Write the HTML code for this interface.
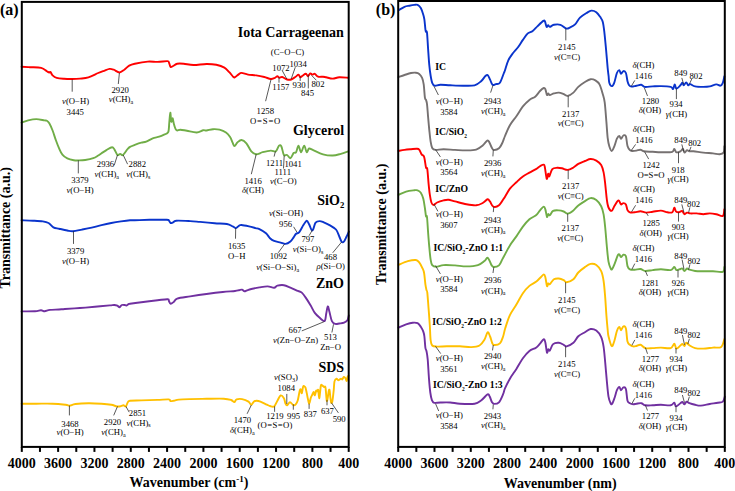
<!DOCTYPE html>
<html><head><meta charset="utf-8"><style>
html,body{margin:0;padding:0;background:#fff;overflow:hidden;}
svg{display:block;font-family:"Liberation Serif",serif;}
</style></head><body>
<svg width="735" height="491" viewBox="0 0 735 491">
<rect width="735" height="491" fill="#fff"/>
<g fill="none" stroke-linejoin="round" stroke-linecap="round" stroke-width="1.9">
<path stroke="#FF0000" d="M21.60,66.80 C23.00,66.87 26.73,67.03 30.00,67.20 C33.27,67.37 38.38,67.12 41.20,67.80 C44.02,68.48 45.55,70.52 46.90,71.30 C48.25,72.08 48.70,72.38 49.30,72.50 C49.90,72.62 49.95,71.52 50.50,72.00 C51.05,72.48 51.57,74.42 52.60,75.40 C53.63,76.38 54.80,77.33 56.70,77.90 C58.60,78.47 61.42,78.62 64.00,78.80 C66.58,78.98 69.53,79.03 72.20,79.00 C74.87,78.97 77.30,78.87 80.00,78.60 C82.70,78.33 85.37,78.33 88.40,77.40 C91.43,76.47 95.60,74.10 98.20,73.00 C100.80,71.90 102.10,71.48 104.00,70.80 C105.90,70.12 107.98,69.08 109.60,68.90 C111.22,68.72 112.07,69.10 113.70,69.70 C115.33,70.30 117.63,72.50 119.40,72.50 C121.17,72.50 122.67,70.85 124.30,69.70 C125.93,68.55 127.45,66.60 129.20,65.60 C130.95,64.60 131.70,64.37 134.80,63.70 C137.90,63.03 144.00,61.90 147.80,61.60 C151.60,61.30 154.33,61.98 157.60,61.90 C160.87,61.82 165.50,60.97 167.40,61.10 C169.30,61.23 168.47,61.73 169.00,62.70 C169.53,63.67 169.92,66.35 170.60,66.90 C171.28,67.45 172.00,66.53 173.10,66.00 C174.20,65.47 175.43,64.08 177.20,63.70 C178.97,63.32 181.00,63.48 183.70,63.70 C186.40,63.92 189.60,64.95 193.40,65.00 C197.20,65.05 202.68,64.03 206.50,64.00 C210.32,63.97 213.32,64.20 216.30,64.80 C219.28,65.40 222.23,66.37 224.40,67.60 C226.57,68.83 227.80,70.63 229.30,72.20 C230.80,73.77 232.45,76.17 233.40,77.00 C234.35,77.83 234.18,77.60 235.00,77.20 C235.82,76.80 237.22,75.32 238.30,74.60 C239.38,73.88 239.88,72.90 241.50,72.90 C243.12,72.90 245.55,74.18 248.00,74.60 C250.45,75.02 253.48,75.00 256.20,75.40 C258.92,75.80 261.87,76.40 264.30,77.00 C266.73,77.60 269.03,78.87 270.80,79.00 C272.57,79.13 273.80,78.27 274.90,77.80 C276.00,77.33 276.67,76.20 277.40,76.20 C278.13,76.20 278.50,77.67 279.30,77.80 C280.10,77.93 280.90,76.72 282.20,77.00 C283.50,77.28 285.60,79.08 287.10,79.50 C288.60,79.92 289.83,79.92 291.20,79.50 C292.57,79.08 294.08,77.82 295.30,77.00 C296.52,76.18 297.68,74.55 298.50,74.60 C299.32,74.65 299.52,77.12 300.20,77.30 C300.88,77.48 301.65,76.28 302.60,75.70 C303.55,75.12 305.00,73.72 305.90,73.80 C306.80,73.88 307.27,76.27 308.00,76.20 C308.73,76.13 309.57,73.67 310.30,73.40 C311.03,73.13 311.65,74.53 312.40,74.60 C313.15,74.67 313.85,73.45 314.80,73.80 C315.75,74.15 316.73,76.22 318.10,76.70 C319.47,77.18 321.65,76.60 323.00,76.70 C324.35,76.80 324.58,76.98 326.20,77.30 C327.82,77.62 330.52,78.60 332.70,78.60 C334.88,78.60 336.72,77.43 339.30,77.30 C341.88,77.17 346.72,77.72 348.20,77.80"/>
<path stroke="#70AD47" d="M21.60,122.70 C22.68,122.32 25.65,121.00 28.10,120.40 C30.55,119.80 33.58,119.10 36.30,119.10 C39.02,119.10 42.63,120.13 44.40,120.40 C46.17,120.67 46.08,120.23 46.90,120.70 C47.72,121.17 48.35,121.57 49.30,123.20 C50.25,124.83 51.50,127.65 52.60,130.50 C53.70,133.35 54.82,137.32 55.90,140.30 C56.98,143.28 58.02,146.00 59.10,148.40 C60.18,150.80 61.03,153.03 62.40,154.70 C63.77,156.37 65.40,157.48 67.30,158.40 C69.20,159.32 71.90,159.87 73.80,160.20 C75.70,160.53 76.80,160.43 78.70,160.40 C80.60,160.37 82.77,160.37 85.20,160.00 C87.63,159.63 91.13,158.95 93.30,158.20 C95.47,157.45 96.83,156.32 98.20,155.50 C99.57,154.68 100.13,154.20 101.50,153.30 C102.87,152.40 104.63,151.12 106.40,150.10 C108.17,149.08 110.75,147.28 112.10,147.20 C113.45,147.12 113.60,148.30 114.50,149.60 C115.40,150.90 116.55,154.28 117.50,155.00 C118.45,155.72 119.28,153.90 120.20,153.90 C121.12,153.90 121.77,155.82 123.00,155.00 C124.23,154.18 126.43,150.37 127.60,149.00 C128.77,147.63 128.80,147.48 130.00,146.80 C131.20,146.12 132.92,145.58 134.80,144.90 C136.68,144.22 139.40,143.25 141.30,142.70 C143.20,142.15 144.30,142.33 146.20,141.60 C148.10,140.87 150.53,139.12 152.70,138.30 C154.87,137.48 157.30,137.32 159.20,136.70 C161.10,136.08 162.60,135.35 164.10,134.60 C165.60,133.85 167.33,134.23 168.20,132.20 C169.07,130.17 168.95,125.67 169.30,122.40 C169.65,119.13 169.97,112.73 170.30,112.60 C170.63,112.47 170.92,120.65 171.30,121.60 C171.68,122.55 172.17,117.90 172.60,118.30 C173.03,118.70 173.42,122.23 173.90,124.00 C174.38,125.77 174.95,127.82 175.50,128.90 C176.05,129.98 176.38,130.37 177.20,130.50 C178.02,130.63 178.78,129.65 180.40,129.70 C182.02,129.75 184.18,130.33 186.90,130.80 C189.62,131.27 193.98,132.60 196.70,132.50 C199.42,132.40 201.57,130.53 203.20,130.20 C204.83,129.87 204.87,130.67 206.50,130.50 C208.13,130.33 210.83,129.33 213.00,129.20 C215.17,129.07 217.33,129.15 219.50,129.70 C221.67,130.25 224.23,131.28 226.00,132.50 C227.77,133.72 229.00,135.30 230.10,137.00 C231.20,138.70 231.87,141.20 232.60,142.70 C233.33,144.20 233.70,146.03 234.50,146.00 C235.30,145.97 236.23,143.50 237.40,142.50 C238.57,141.50 240.00,139.87 241.50,140.00 C243.00,140.13 244.77,141.40 246.40,143.30 C248.03,145.20 249.67,149.57 251.30,151.40 C252.93,153.23 254.30,154.17 256.20,154.30 C258.10,154.43 260.27,152.82 262.70,152.20 C265.13,151.58 268.63,150.73 270.80,150.60 C272.97,150.47 274.33,152.22 275.70,151.40 C277.07,150.58 278.05,146.52 279.00,145.70 C279.95,144.88 280.58,144.95 281.40,146.50 C282.22,148.05 282.95,153.58 283.90,155.00 C284.85,156.42 286.02,154.47 287.10,155.00 C288.18,155.53 289.32,158.53 290.40,158.20 C291.48,157.87 292.65,154.00 293.60,153.00 C294.55,152.00 295.28,153.42 296.10,152.20 C296.92,150.98 297.68,145.70 298.50,145.70 C299.32,145.70 300.05,152.20 301.00,152.20 C301.95,152.20 303.25,145.70 304.20,145.70 C305.15,145.70 305.88,151.73 306.70,152.20 C307.52,152.67 308.02,148.85 309.10,148.50 C310.18,148.15 310.88,149.13 313.20,150.10 C315.52,151.07 319.75,153.40 323.00,154.30 C326.25,155.20 329.72,155.58 332.70,155.50 C335.68,155.42 338.32,154.48 340.90,153.80 C343.48,153.12 346.98,151.80 348.20,151.40"/>
<path stroke="#0A34CC" d="M21.60,220.30 C23.50,220.37 29.47,220.52 33.00,220.70 C36.53,220.88 40.22,221.02 42.80,221.40 C45.38,221.78 46.73,222.02 48.50,223.00 C50.27,223.98 51.63,226.35 53.40,227.30 C55.17,228.25 56.78,228.17 59.10,228.70 C61.42,229.23 64.98,230.08 67.30,230.50 C69.62,230.92 70.57,231.35 73.00,231.20 C75.43,231.05 78.78,230.20 81.90,229.60 C85.02,229.00 88.43,228.35 91.70,227.60 C94.97,226.85 98.23,225.87 101.50,225.10 C104.77,224.33 108.05,223.62 111.30,223.00 C114.55,222.38 117.88,221.85 121.00,221.40 C124.12,220.95 127.70,220.48 130.00,220.30 C132.30,220.12 131.57,220.38 134.80,220.30 C138.03,220.22 144.10,219.88 149.40,219.80 C154.70,219.72 163.33,219.65 166.60,219.80 C169.87,219.95 168.33,220.17 169.00,220.70 C169.67,221.23 169.92,222.72 170.60,223.00 C171.28,223.28 172.15,222.78 173.10,222.40 C174.05,222.02 173.45,220.92 176.30,220.70 C179.15,220.48 186.25,220.90 190.20,221.10 C194.15,221.30 195.92,221.55 200.00,221.90 C204.08,222.25 210.22,222.85 214.70,223.20 C219.18,223.55 223.90,223.47 226.90,224.00 C229.90,224.53 231.20,225.72 232.70,226.40 C234.20,227.08 234.82,228.23 235.90,228.10 C236.98,227.97 238.25,226.12 239.20,225.60 C240.15,225.08 239.97,224.87 241.60,225.00 C243.23,225.13 246.68,225.88 249.00,226.40 C251.32,226.92 253.77,227.63 255.50,228.10 C257.23,228.57 257.65,228.33 259.40,229.20 C261.15,230.07 264.23,231.80 266.00,233.30 C267.77,234.80 268.65,236.93 270.00,238.20 C271.35,239.47 272.33,240.17 274.10,240.90 C275.87,241.63 278.70,242.10 280.60,242.60 C282.50,243.10 283.87,244.10 285.50,243.90 C287.13,243.70 289.05,242.48 290.40,241.40 C291.75,240.32 292.65,238.67 293.60,237.40 C294.55,236.13 295.15,234.68 296.10,233.80 C297.05,232.92 298.08,233.55 299.30,232.10 C300.52,230.65 302.17,227.00 303.40,225.10 C304.63,223.20 305.75,220.83 306.70,220.70 C307.65,220.57 308.28,222.75 309.10,224.30 C309.92,225.85 310.92,229.18 311.60,230.00 C312.28,230.82 312.53,230.42 313.20,229.20 C313.87,227.98 314.52,224.05 315.60,222.70 C316.68,221.35 318.33,221.15 319.70,221.10 C321.07,221.05 322.17,221.73 323.80,222.40 C325.43,223.07 327.47,223.92 329.50,225.10 C331.53,226.28 334.37,227.60 336.00,229.50 C337.63,231.40 338.35,234.43 339.30,236.50 C340.25,238.57 340.90,241.08 341.70,241.90 C342.50,242.72 343.28,242.30 344.10,241.40 C344.92,240.50 345.82,238.12 346.60,236.50 C347.38,234.88 348.43,232.50 348.80,231.70"/>
<path stroke="#7030A0" d="M21.60,311.40 C23.83,311.38 31.77,311.48 35.00,311.30 C38.23,311.12 39.38,310.32 41.00,310.30 C42.62,310.28 43.22,311.27 44.70,311.20 C46.18,311.13 47.53,310.18 49.90,309.90 C52.27,309.62 56.40,309.65 58.90,309.50 C61.40,309.35 61.40,309.25 64.90,309.00 C68.40,308.75 74.90,308.37 79.90,308.00 C84.90,307.63 89.92,307.23 94.90,306.80 C99.88,306.37 106.57,305.70 109.80,305.40 C113.03,305.10 113.05,304.95 114.30,305.00 C115.55,305.05 116.42,305.33 117.30,305.70 C118.18,306.07 118.85,307.32 119.60,307.20 C120.35,307.08 120.93,305.37 121.80,305.00 C122.67,304.63 124.05,304.90 124.80,305.00 C125.55,305.10 125.68,305.73 126.30,305.60 C126.92,305.47 127.88,304.50 128.50,304.20 C129.12,303.90 127.87,304.13 130.00,303.80 C132.13,303.47 136.70,302.80 141.30,302.20 C145.90,301.60 153.20,300.70 157.60,300.20 C162.00,299.70 165.80,299.02 167.70,299.20 C169.60,299.38 168.52,300.53 169.00,301.30 C169.48,302.07 169.78,303.72 170.60,303.80 C171.42,303.88 172.80,302.67 173.90,301.80 C175.00,300.93 174.48,299.50 177.20,298.60 C179.92,297.70 185.32,297.17 190.20,296.40 C195.08,295.63 201.07,294.73 206.50,294.00 C211.93,293.27 218.05,292.50 222.80,292.00 C227.55,291.50 232.30,291.30 235.00,291.00 C237.70,290.70 237.83,290.43 239.00,290.20 C240.17,289.97 241.08,289.43 242.00,289.60 C242.92,289.77 243.67,291.08 244.50,291.20 C245.33,291.32 245.87,290.67 247.00,290.30 C248.13,289.93 249.23,289.48 251.30,289.00 C253.37,288.52 256.68,287.83 259.40,287.40 C262.12,286.97 265.15,286.35 267.60,286.40 C270.05,286.45 272.47,287.82 274.10,287.70 C275.73,287.58 275.77,286.12 277.40,285.70 C279.03,285.28 281.73,284.87 283.90,285.20 C286.07,285.53 288.23,286.80 290.40,287.70 C292.57,288.60 295.00,289.78 296.90,290.60 C298.80,291.42 300.17,291.18 301.80,292.60 C303.43,294.02 305.22,296.93 306.70,299.10 C308.18,301.27 309.35,303.30 310.70,305.60 C312.05,307.90 313.30,310.87 314.80,312.90 C316.30,314.93 318.07,316.43 319.70,317.80 C321.33,319.17 323.52,321.77 324.60,321.10 C325.68,320.43 325.67,316.25 326.20,313.80 C326.73,311.35 327.25,306.68 327.80,306.40 C328.35,306.12 328.82,309.65 329.50,312.10 C330.18,314.55 330.95,319.13 331.90,321.10 C332.85,323.07 333.97,323.50 335.20,323.90 C336.43,324.30 337.82,323.70 339.30,323.50 C340.78,323.30 342.75,323.23 344.10,322.70 C345.45,322.17 346.62,321.52 347.40,320.30 C348.18,319.08 348.57,316.22 348.80,315.40"/>
<path stroke="#FFC000" d="M21.60,403.70 C24.05,403.70 31.13,403.70 36.30,403.70 C41.47,403.70 47.72,403.52 52.60,403.70 C57.48,403.88 62.75,404.48 65.60,404.80 C68.45,405.12 68.07,405.73 69.70,405.60 C71.33,405.47 72.28,404.40 75.40,404.00 C78.52,403.60 84.05,403.25 88.40,403.20 C92.75,403.15 97.68,403.43 101.50,403.70 C105.32,403.97 108.72,404.35 111.30,404.80 C113.88,405.25 115.38,406.18 117.00,406.40 C118.62,406.62 119.92,406.28 121.00,406.10 C122.08,405.92 122.68,405.25 123.50,405.30 C124.32,405.35 125.22,406.83 125.90,406.40 C126.58,405.97 126.93,403.65 127.60,402.70 C128.27,401.75 127.62,401.08 129.90,400.70 C132.18,400.32 136.68,400.53 141.30,400.40 C145.92,400.27 153.03,400.07 157.60,399.90 C162.17,399.73 166.53,399.20 168.70,399.40 C170.87,399.60 169.73,400.88 170.60,401.10 C171.47,401.32 172.53,400.95 173.90,400.70 C175.27,400.45 176.08,399.87 178.80,399.60 C181.52,399.33 185.58,399.23 190.20,399.10 C194.82,398.97 200.92,398.87 206.50,398.80 C212.08,398.73 219.60,398.50 223.70,398.70 C227.80,398.90 229.33,399.43 231.10,400.00 C232.87,400.57 233.38,402.20 234.30,402.10 C235.22,402.00 235.30,399.90 236.60,399.40 C237.90,398.90 240.12,398.73 242.10,399.10 C244.08,399.47 246.98,400.63 248.50,401.60 C250.02,402.57 250.28,404.93 251.20,404.90 C252.12,404.87 253.08,402.10 254.00,401.40 C254.92,400.70 255.63,400.67 256.70,400.70 C257.77,400.73 258.72,400.95 260.40,401.60 C262.08,402.25 265.20,403.87 266.80,404.60 C268.40,405.33 268.78,405.70 270.00,406.00 C271.22,406.30 272.87,407.28 274.10,406.40 C275.33,405.52 276.32,402.52 277.40,400.70 C278.48,398.88 279.52,395.90 280.60,395.50 C281.68,395.10 283.08,396.93 283.90,398.30 C284.72,399.67 284.97,402.53 285.50,403.70 C286.03,404.87 286.35,405.55 287.10,405.30 C287.85,405.05 288.97,402.23 290.00,402.20 C291.03,402.17 292.35,404.75 293.30,405.10 C294.25,405.45 294.95,405.12 295.70,404.30 C296.45,403.48 297.12,402.52 297.80,400.20 C298.48,397.88 299.27,392.17 299.80,390.40 C300.33,388.63 300.67,389.12 301.00,389.60 C301.33,390.08 301.45,393.78 301.80,393.30 C302.15,392.82 302.68,387.87 303.10,386.70 C303.52,385.53 303.90,386.15 304.30,386.30 C304.70,386.45 305.10,386.50 305.50,387.60 C305.90,388.70 306.28,390.93 306.70,392.90 C307.12,394.87 307.57,397.63 308.00,399.40 C308.43,401.17 308.83,403.77 309.30,403.50 C309.77,403.23 310.28,399.30 310.80,397.80 C311.32,396.30 311.92,395.47 312.40,394.50 C312.88,393.53 313.28,391.87 313.70,392.00 C314.12,392.13 314.50,395.50 314.90,395.30 C315.30,395.10 315.70,391.48 316.10,390.80 C316.50,390.12 316.95,391.33 317.30,391.20 C317.65,391.07 317.88,388.83 318.20,390.00 C318.52,391.17 318.87,398.00 319.20,398.20 C319.53,398.40 319.90,393.38 320.20,391.20 C320.50,389.02 320.58,385.98 321.00,385.10 C321.42,384.22 322.15,385.57 322.70,385.90 C323.25,386.23 323.83,386.82 324.30,387.10 C324.77,387.38 325.10,385.42 325.50,387.60 C325.90,389.78 326.35,398.37 326.70,400.20 C327.05,402.03 327.25,400.17 327.60,398.60 C327.95,397.03 328.47,392.17 328.80,390.80 C329.13,389.43 329.33,389.23 329.60,390.40 C329.87,391.57 330.13,395.75 330.40,397.80 C330.67,399.85 330.87,402.17 331.20,402.70 C331.53,403.23 331.98,403.05 332.40,401.00 C332.82,398.95 333.35,393.67 333.70,390.40 C334.05,387.13 334.03,383.37 334.50,381.40 C334.97,379.43 335.88,378.80 336.50,378.60 C337.12,378.40 337.65,380.07 338.20,380.20 C338.75,380.33 339.33,379.67 339.80,379.40 C340.27,379.13 340.60,378.60 341.00,378.60 C341.40,378.60 341.72,379.68 342.20,379.40 C342.68,379.12 343.35,377.10 343.90,376.90 C344.45,376.70 345.03,377.52 345.50,378.20 C345.97,378.88 346.35,381.22 346.70,381.00 C347.05,380.78 347.28,377.78 347.60,376.90 C347.92,376.02 348.43,375.90 348.60,375.70"/>
<path stroke="#0A34CC" d="M398.80,10.10 C399.75,9.55 402.73,7.53 404.50,6.80 C406.27,6.07 407.77,6.02 409.40,5.70 C411.03,5.38 412.93,5.03 414.30,4.90 C415.67,4.77 416.52,4.37 417.60,4.90 C418.68,5.43 419.85,6.47 420.80,8.10 C421.75,9.73 422.70,12.78 423.30,14.70 C423.90,16.62 424.05,17.17 424.40,19.60 C424.75,22.03 425.13,27.27 425.40,29.30 C425.67,31.33 425.73,31.25 426.00,31.80 C426.27,32.35 426.65,29.75 427.00,32.60 C427.35,35.45 427.72,43.47 428.10,48.90 C428.48,54.33 428.88,60.77 429.30,65.20 C429.72,69.63 430.12,72.57 430.60,75.50 C431.08,78.43 431.52,81.10 432.20,82.80 C432.88,84.50 433.33,85.37 434.70,85.70 C436.07,86.03 437.82,84.87 440.40,84.80 C442.98,84.73 446.40,85.15 450.20,85.30 C454.00,85.45 459.13,85.70 463.20,85.70 C467.27,85.70 471.62,86.05 474.60,85.30 C477.58,84.55 479.33,82.70 481.10,81.20 C482.87,79.70 484.12,77.33 485.20,76.30 C486.28,75.27 486.78,74.45 487.60,75.00 C488.42,75.55 489.28,77.97 490.10,79.60 C490.92,81.23 491.55,84.05 492.50,84.80 C493.45,85.55 494.57,84.43 495.80,84.10 C497.03,83.77 498.55,84.65 499.90,82.80 C501.25,80.95 503.05,75.08 503.90,73.00 C504.75,70.92 504.27,72.42 505.00,70.30 C505.73,68.18 506.95,63.18 508.30,60.30 C509.65,57.42 511.48,55.17 513.10,53.00 C514.72,50.83 516.37,49.48 518.00,47.30 C519.63,45.12 521.27,42.22 522.90,39.90 C524.53,37.58 526.17,34.88 527.80,33.40 C529.43,31.92 531.07,32.22 532.70,31.00 C534.33,29.78 535.83,27.78 537.60,26.10 C539.37,24.42 542.08,21.72 543.30,20.90 C544.52,20.08 544.35,20.20 544.90,21.20 C545.45,22.20 546.05,26.22 546.60,26.90 C547.15,27.58 547.67,25.30 548.20,25.30 C548.73,25.30 548.85,26.98 549.80,26.90 C550.75,26.82 552.13,25.15 553.90,24.80 C555.67,24.45 558.37,24.18 560.40,24.80 C562.43,25.42 564.47,28.07 566.10,28.50 C567.73,28.93 568.70,28.08 570.20,27.40 C571.70,26.72 573.47,26.03 575.10,24.40 C576.73,22.77 578.10,19.50 580.00,17.60 C581.90,15.70 584.60,14.17 586.50,13.00 C588.40,11.83 589.77,10.73 591.40,10.60 C593.03,10.47 594.82,11.12 596.30,12.20 C597.78,13.28 599.22,15.47 600.30,17.10 C601.38,18.73 602.12,19.42 602.80,22.00 C603.48,24.58 603.87,28.12 604.40,32.60 C604.93,37.08 605.45,42.93 606.00,48.90 C606.55,54.87 607.27,63.88 607.70,68.40 C608.13,72.92 608.33,73.60 608.60,76.00 C608.87,78.40 608.78,81.12 609.30,82.80 C609.82,84.48 610.88,86.10 611.70,86.10 C612.52,86.10 613.33,84.98 614.20,82.80 C615.07,80.62 616.05,75.12 616.90,73.00 C617.75,70.88 618.62,69.97 619.30,70.10 C619.98,70.23 620.32,73.63 621.00,73.80 C621.68,73.97 622.58,71.23 623.40,71.10 C624.22,70.97 625.22,71.32 625.90,73.00 C626.58,74.68 626.97,79.15 627.50,81.20 C628.03,83.25 628.42,84.40 629.10,85.30 C629.78,86.20 630.38,86.53 631.60,86.60 C632.82,86.67 634.78,86.00 636.40,85.70 C638.02,85.40 639.93,84.60 641.30,84.80 C642.67,85.00 642.70,86.63 644.60,86.90 C646.50,87.17 649.98,86.53 652.70,86.40 C655.42,86.27 657.90,86.02 660.90,86.10 C663.90,86.18 668.67,86.42 670.70,86.90 C672.73,87.38 672.43,89.42 673.10,89.00 C673.77,88.58 674.15,84.48 674.70,84.40 C675.25,84.32 675.45,88.35 676.40,88.50 C677.35,88.65 679.40,86.25 680.40,85.30 C681.40,84.35 681.85,82.80 682.40,82.80 C682.95,82.80 683.07,85.35 683.70,85.30 C684.33,85.25 685.43,82.50 686.20,82.50 C686.97,82.50 687.63,85.03 688.30,85.30 C688.97,85.57 689.07,83.92 690.20,84.10 C691.33,84.28 692.92,85.93 695.10,86.40 C697.28,86.87 700.85,86.90 703.30,86.90 C705.75,86.90 707.63,86.82 709.80,86.40 C711.97,85.98 714.53,84.52 716.30,84.40 C718.07,84.28 719.32,85.97 720.40,85.70 C721.48,85.43 722.13,84.37 722.80,82.80 C723.47,81.23 724.13,77.38 724.40,76.30"/>
<path stroke="#767171" d="M398.50,77.10 C399.50,76.75 402.42,75.68 404.50,75.00 C406.58,74.32 409.10,73.38 411.00,73.00 C412.90,72.62 414.53,72.55 415.90,72.70 C417.27,72.85 418.17,73.03 419.20,73.90 C420.23,74.77 421.35,76.15 422.10,77.90 C422.85,79.65 423.23,81.13 423.70,84.40 C424.17,87.67 424.52,94.92 424.90,97.50 C425.28,100.08 425.65,98.82 426.00,99.90 C426.35,100.98 426.65,101.15 427.00,104.00 C427.35,106.85 427.72,112.65 428.10,117.00 C428.48,121.35 428.88,126.03 429.30,130.10 C429.72,134.17 430.12,138.43 430.60,141.40 C431.08,144.37 431.38,146.48 432.20,147.90 C433.02,149.32 433.60,149.68 435.50,149.90 C437.40,150.12 440.35,149.20 443.60,149.20 C446.85,149.20 451.20,149.70 455.00,149.90 C458.80,150.10 462.87,150.45 466.40,150.40 C469.93,150.35 473.48,150.42 476.20,149.60 C478.92,148.78 480.85,147.00 482.70,145.50 C484.55,144.00 486.20,141.15 487.30,140.60 C488.40,140.05 488.57,141.03 489.30,142.20 C490.03,143.37 490.95,146.32 491.70,147.60 C492.45,148.88 492.58,149.78 493.80,149.90 C495.02,150.02 497.58,149.45 499.00,148.30 C500.42,147.15 501.30,145.05 502.30,143.00 C503.30,140.95 503.73,138.97 505.00,136.00 C506.27,133.03 508.00,128.50 509.90,125.20 C511.80,121.90 514.23,119.33 516.40,116.20 C518.57,113.07 520.73,109.12 522.90,106.40 C525.07,103.68 527.35,101.52 529.40,99.90 C531.45,98.28 533.43,98.18 535.20,96.70 C536.97,95.22 538.57,92.45 540.00,91.00 C541.43,89.55 542.90,88.28 543.80,88.00 C544.70,87.72 544.87,88.13 545.40,89.30 C545.93,90.47 546.53,94.32 547.00,95.00 C547.47,95.68 547.73,93.40 548.20,93.40 C548.67,93.40 548.85,95.00 549.80,95.00 C550.75,95.00 552.40,93.80 553.90,93.40 C555.40,93.00 557.17,92.47 558.80,92.60 C560.43,92.73 562.22,93.65 563.70,94.20 C565.18,94.75 566.08,96.17 567.70,95.90 C569.32,95.63 571.63,94.10 573.40,92.60 C575.17,91.10 576.38,88.67 578.30,86.90 C580.22,85.13 582.85,83.28 584.90,82.00 C586.95,80.72 588.85,79.47 590.60,79.20 C592.35,78.93 593.92,79.53 595.40,80.40 C596.88,81.27 598.27,82.10 599.50,84.40 C600.73,86.70 601.93,91.20 602.80,94.20 C603.67,97.20 604.10,97.78 604.70,102.40 C605.30,107.02 605.90,115.93 606.40,121.90 C606.90,127.87 607.22,134.13 607.70,138.20 C608.18,142.27 608.63,144.17 609.30,146.30 C609.97,148.43 610.85,151.03 611.70,151.00 C612.55,150.97 613.53,148.15 614.40,146.10 C615.27,144.05 616.08,140.38 616.90,138.70 C617.72,137.02 618.62,136.00 619.30,136.00 C619.98,136.00 620.32,138.78 621.00,138.70 C621.68,138.62 622.58,135.90 623.40,135.50 C624.22,135.10 625.22,134.53 625.90,136.30 C626.58,138.07 626.83,143.78 627.50,146.10 C628.17,148.42 629.08,149.38 629.90,150.20 C630.72,151.02 631.32,150.93 632.40,151.00 C633.48,151.07 635.05,150.82 636.40,150.60 C637.75,150.38 639.27,149.58 640.50,149.70 C641.73,149.82 641.77,150.95 643.80,151.30 C645.83,151.65 649.30,151.63 652.70,151.80 C656.10,151.97 660.93,152.30 664.20,152.30 C667.47,152.30 670.62,152.35 672.30,151.80 C673.98,151.25 673.62,148.92 674.30,149.00 C674.98,149.08 675.38,151.92 676.40,152.30 C677.42,152.68 679.32,151.85 680.40,151.30 C681.48,150.75 682.22,148.78 682.90,149.00 C683.58,149.22 683.82,152.40 684.50,152.60 C685.18,152.80 686.18,150.42 687.00,150.20 C687.82,149.98 688.32,151.12 689.40,151.30 C690.48,151.48 691.18,151.08 693.50,151.30 C695.82,151.52 700.05,152.25 703.30,152.60 C706.55,152.95 710.28,153.13 713.00,153.40 C715.72,153.67 717.83,154.33 719.60,154.20 C721.37,154.07 722.80,153.95 723.60,152.60 C724.40,151.25 724.27,147.18 724.40,146.10"/>
<path stroke="#FF0000" d="M398.50,150.90 C399.50,150.73 402.42,150.18 404.50,149.90 C406.58,149.62 408.97,149.40 411.00,149.20 C413.03,149.00 415.33,148.63 416.70,148.70 C418.07,148.77 418.38,148.65 419.20,149.60 C420.02,150.55 420.78,153.18 421.60,154.40 C422.42,155.62 423.37,154.72 424.10,156.90 C424.83,159.08 425.47,165.47 426.00,167.50 C426.53,169.53 426.87,166.38 427.30,169.10 C427.73,171.82 428.17,179.45 428.60,183.80 C429.03,188.15 429.43,192.08 429.90,195.20 C430.37,198.32 430.80,200.87 431.40,202.50 C432.00,204.13 432.55,205.00 433.50,205.00 C434.45,205.00 435.42,203.27 437.10,202.50 C438.78,201.73 441.70,200.85 443.60,200.40 C445.50,199.95 446.60,199.63 448.50,199.80 C450.40,199.97 452.02,200.67 455.00,201.40 C457.98,202.13 462.87,203.55 466.40,204.20 C469.93,204.85 473.48,205.50 476.20,205.30 C478.92,205.10 480.80,204.00 482.70,203.00 C484.60,202.00 486.37,199.52 487.60,199.30 C488.83,199.08 489.15,200.48 490.10,201.70 C491.05,202.92 491.82,206.00 493.30,206.60 C494.78,207.20 497.23,206.67 499.00,205.30 C500.77,203.93 502.90,199.82 503.90,198.40 C504.90,196.98 504.00,198.42 505.00,196.80 C506.00,195.18 508.00,191.13 509.90,188.70 C511.80,186.27 514.23,184.25 516.40,182.20 C518.57,180.15 520.73,177.98 522.90,176.40 C525.07,174.82 527.22,173.92 529.40,172.70 C531.58,171.48 534.23,170.18 536.00,169.10 C537.77,168.02 538.70,166.95 540.00,166.20 C541.30,165.45 542.98,164.38 543.80,164.60 C544.62,164.82 544.52,165.67 544.90,167.50 C545.28,169.33 545.75,173.70 546.10,175.60 C546.45,177.50 546.65,179.22 547.00,178.90 C547.35,178.58 547.82,174.12 548.20,173.70 C548.58,173.28 548.62,177.17 549.30,176.40 C549.98,175.63 550.98,170.53 552.30,169.10 C553.62,167.67 555.58,167.93 557.20,167.80 C558.82,167.67 560.25,167.95 562.00,168.30 C563.75,168.65 565.80,170.03 567.70,169.90 C569.60,169.77 571.63,168.50 573.40,167.50 C575.17,166.50 576.38,164.98 578.30,163.90 C580.22,162.82 582.85,161.82 584.90,161.00 C586.95,160.18 588.70,159.07 590.60,159.00 C592.50,158.93 594.53,159.60 596.30,160.60 C598.07,161.60 599.98,163.03 601.20,165.00 C602.42,166.97 602.93,169.27 603.60,172.40 C604.27,175.53 604.65,179.18 605.20,183.80 C605.75,188.42 606.35,196.15 606.90,200.10 C607.45,204.05 607.70,205.72 608.50,207.50 C609.30,209.28 610.72,211.03 611.70,210.80 C612.68,210.57 613.40,207.75 614.40,206.10 C615.40,204.45 616.88,201.72 617.70,200.90 C618.52,200.08 618.75,200.62 619.30,201.20 C619.85,201.78 620.32,204.08 621.00,204.40 C621.68,204.72 622.58,203.10 623.40,203.10 C624.22,203.10 625.22,203.23 625.90,204.40 C626.58,205.57 626.83,208.78 627.50,210.10 C628.17,211.42 628.68,211.93 629.90,212.30 C631.12,212.67 633.03,212.47 634.80,212.30 C636.57,212.13 638.60,211.25 640.50,211.30 C642.40,211.35 644.17,212.52 646.20,212.60 C648.23,212.68 650.25,212.13 652.70,211.80 C655.15,211.47 658.45,210.52 660.90,210.60 C663.35,210.68 665.50,212.02 667.40,212.30 C669.30,212.58 671.15,213.07 672.30,212.30 C673.45,211.53 673.70,207.87 674.30,207.70 C674.90,207.53 675.15,210.53 675.90,211.30 C676.65,212.07 677.77,212.35 678.80,212.30 C679.83,212.25 681.15,210.68 682.10,211.00 C683.05,211.32 683.68,213.93 684.50,214.20 C685.32,214.47 686.05,212.73 687.00,212.60 C687.95,212.47 688.58,213.27 690.20,213.40 C691.82,213.53 694.52,213.27 696.70,213.40 C698.88,213.53 701.12,214.20 703.30,214.20 C705.48,214.20 707.63,213.40 709.80,213.40 C711.97,213.40 714.13,213.78 716.30,214.20 C718.47,214.62 721.45,216.72 722.80,215.90 C724.15,215.08 724.13,210.40 724.40,209.30"/>
<path stroke="#70AD47" d="M398.50,194.90 C399.77,194.35 403.47,192.37 406.10,191.60 C408.73,190.83 412.38,190.52 414.30,190.30 C416.22,190.08 416.52,189.90 417.60,190.30 C418.68,190.70 419.85,191.28 420.80,192.70 C421.75,194.12 422.62,196.25 423.30,198.80 C423.98,201.35 424.45,205.10 424.90,208.00 C425.35,210.90 425.65,214.70 426.00,216.20 C426.35,217.70 426.65,214.28 427.00,217.00 C427.35,219.72 427.72,227.47 428.10,232.50 C428.48,237.53 428.88,242.72 429.30,247.20 C429.72,251.68 430.12,256.42 430.60,259.40 C431.08,262.38 431.25,263.88 432.20,265.10 C433.15,266.32 434.40,266.70 436.30,266.70 C438.20,266.70 440.48,265.32 443.60,265.10 C446.72,264.88 451.20,265.18 455.00,265.40 C458.80,265.62 462.58,266.45 466.40,266.40 C470.22,266.35 474.90,266.00 477.90,265.10 C480.90,264.20 482.83,262.23 484.40,261.00 C485.97,259.77 486.48,257.83 487.30,257.70 C488.12,257.57 488.57,258.92 489.30,260.20 C490.03,261.48 490.95,264.27 491.70,265.40 C492.45,266.53 492.58,267.00 493.80,267.00 C495.02,267.00 497.58,266.67 499.00,265.40 C500.42,264.13 501.30,261.23 502.30,259.40 C503.30,257.57 503.73,256.73 505.00,254.40 C506.27,252.07 508.00,248.40 509.90,245.40 C511.80,242.40 514.23,239.52 516.40,236.40 C518.57,233.28 520.73,229.55 522.90,226.70 C525.07,223.85 527.22,221.20 529.40,219.30 C531.58,217.40 534.23,216.78 536.00,215.30 C537.77,213.82 538.70,211.85 540.00,210.40 C541.30,208.95 542.90,206.73 543.80,206.60 C544.70,206.47 544.87,207.88 545.40,209.60 C545.93,211.32 546.53,216.15 547.00,216.90 C547.47,217.65 547.73,214.37 548.20,214.10 C548.67,213.83 548.98,215.83 549.80,215.30 C550.62,214.77 551.60,211.72 553.10,210.90 C554.60,210.08 557.03,210.30 558.80,210.40 C560.57,210.50 562.22,210.97 563.70,211.50 C565.18,212.03 566.08,213.78 567.70,213.60 C569.32,213.42 571.63,211.75 573.40,210.40 C575.17,209.05 576.38,207.05 578.30,205.50 C580.22,203.95 582.85,202.33 584.90,201.10 C586.95,199.87 588.70,198.27 590.60,198.10 C592.50,197.93 594.53,198.73 596.30,200.10 C598.07,201.47 599.98,203.92 601.20,206.30 C602.42,208.68 602.93,210.87 603.60,214.40 C604.27,217.93 604.65,222.07 605.20,227.50 C605.75,232.93 606.35,241.30 606.90,247.00 C607.45,252.70 607.88,258.17 608.50,261.70 C609.12,265.23 610.02,266.93 610.60,268.20 C611.18,269.47 611.37,269.93 612.00,269.30 C612.63,268.67 613.45,266.70 614.40,264.40 C615.35,262.10 616.88,257.18 617.70,255.50 C618.52,253.82 618.75,254.03 619.30,254.30 C619.85,254.57 620.32,257.03 621.00,257.10 C621.68,257.17 622.58,254.83 623.40,254.70 C624.22,254.57 625.22,254.40 625.90,256.30 C626.58,258.20 626.83,263.93 627.50,266.10 C628.17,268.27 628.68,268.70 629.90,269.30 C631.12,269.90 633.03,269.75 634.80,269.70 C636.57,269.65 638.73,268.78 640.50,269.00 C642.27,269.22 643.37,270.82 645.40,271.00 C647.43,271.18 650.12,270.38 652.70,270.10 C655.28,269.82 657.90,269.30 660.90,269.30 C663.90,269.30 668.47,270.50 670.70,270.10 C672.93,269.70 673.35,266.90 674.30,266.90 C675.25,266.90 675.38,269.75 676.40,270.10 C677.42,270.45 679.40,269.27 680.40,269.00 C681.40,268.73 681.72,268.17 682.40,268.50 C683.08,268.83 683.73,271.00 684.50,271.00 C685.27,271.00 686.18,268.72 687.00,268.50 C687.82,268.28 688.05,269.28 689.40,269.70 C690.75,270.12 692.78,270.73 695.10,271.00 C697.42,271.27 700.32,271.25 703.30,271.30 C706.28,271.35 709.75,271.22 713.00,271.30 C716.25,271.38 720.90,272.53 722.80,271.80 C724.70,271.07 724.13,267.72 724.40,266.90"/>
<path stroke="#FFC000" d="M398.50,264.90 C400.05,264.28 404.90,262.02 407.80,261.20 C410.70,260.38 414.00,259.80 415.90,260.00 C417.80,260.20 418.12,261.05 419.20,262.40 C420.28,263.75 421.58,266.33 422.40,268.10 C423.22,269.87 423.60,270.28 424.10,273.00 C424.60,275.72 425.00,281.55 425.40,284.40 C425.80,287.25 426.18,288.73 426.50,290.10 C426.82,291.47 426.95,289.47 427.30,292.60 C427.65,295.73 428.18,303.47 428.60,308.90 C429.02,314.33 429.47,320.05 429.80,325.20 C430.13,330.35 430.20,336.42 430.60,339.80 C431.00,343.18 431.12,344.37 432.20,345.50 C433.28,346.63 434.65,346.47 437.10,346.60 C439.55,346.73 443.10,346.35 446.90,346.30 C450.70,346.25 455.83,346.17 459.90,346.30 C463.97,346.43 468.03,347.23 471.30,347.10 C474.57,346.97 477.32,346.72 479.50,345.50 C481.68,344.28 483.05,341.98 484.40,339.80 C485.75,337.62 486.65,332.95 487.60,332.40 C488.55,331.85 489.33,334.73 490.10,336.50 C490.87,338.27 491.52,341.58 492.20,343.00 C492.88,344.42 492.92,344.93 494.20,345.00 C495.48,345.07 498.42,344.82 499.90,343.40 C501.38,341.98 502.20,339.07 503.10,336.50 C504.00,333.93 504.17,331.55 505.30,328.00 C506.43,324.45 508.05,319.10 509.90,315.20 C511.75,311.30 514.23,308.27 516.40,304.60 C518.57,300.93 520.73,296.32 522.90,293.20 C525.07,290.08 527.22,287.80 529.40,285.90 C531.58,284.00 534.23,283.12 536.00,281.80 C537.77,280.48 538.70,279.23 540.00,278.00 C541.30,276.77 542.90,274.50 543.80,274.40 C544.70,274.30 544.87,275.43 545.40,277.40 C545.93,279.37 546.53,285.20 547.00,286.20 C547.47,287.20 547.73,283.73 548.20,283.40 C548.67,283.07 548.85,284.88 549.80,284.20 C550.75,283.52 552.40,280.25 553.90,279.30 C555.40,278.35 557.17,278.37 558.80,278.50 C560.43,278.63 562.40,279.47 563.70,280.10 C565.00,280.73 564.98,282.43 566.60,282.30 C568.22,282.17 571.45,280.93 573.40,279.30 C575.35,277.67 576.38,274.53 578.30,272.50 C580.22,270.47 582.85,268.53 584.90,267.10 C586.95,265.67 588.70,264.25 590.60,263.90 C592.50,263.55 594.53,263.78 596.30,265.00 C598.07,266.22 599.98,268.53 601.20,271.20 C602.42,273.87 602.93,276.65 603.60,281.00 C604.27,285.35 604.73,291.60 605.20,297.30 C605.67,303.00 605.98,309.75 606.40,315.20 C606.82,320.65 607.35,326.48 607.70,330.00 C608.05,333.52 607.83,333.62 608.50,336.30 C609.17,338.98 610.72,345.37 611.70,346.10 C612.68,346.83 613.53,343.22 614.40,340.70 C615.27,338.18 616.08,333.30 616.90,331.00 C617.72,328.70 618.62,327.03 619.30,326.90 C619.98,326.77 620.32,330.28 621.00,330.20 C621.68,330.12 622.58,326.68 623.40,326.40 C624.22,326.12 625.22,325.97 625.90,328.50 C626.58,331.03 626.83,338.88 627.50,341.60 C628.17,344.32 628.95,344.00 629.90,344.80 C630.85,345.60 632.12,346.20 633.20,346.40 C634.28,346.60 635.18,346.27 636.40,346.00 C637.62,345.73 639.00,344.45 640.50,344.80 C642.00,345.15 643.37,347.55 645.40,348.10 C647.43,348.65 650.12,348.18 652.70,348.10 C655.28,348.02 657.90,347.60 660.90,347.60 C663.90,347.60 668.47,348.75 670.70,348.10 C672.93,347.45 673.35,343.62 674.30,343.70 C675.25,343.78 675.38,348.28 676.40,348.60 C677.42,348.92 679.40,346.37 680.40,345.60 C681.40,344.83 681.72,343.93 682.40,344.00 C683.08,344.07 683.87,346.22 684.50,346.00 C685.13,345.78 685.38,342.82 686.20,342.70 C687.02,342.58 687.92,344.40 689.40,345.30 C690.88,346.20 692.78,347.55 695.10,348.10 C697.42,348.65 700.32,348.68 703.30,348.60 C706.28,348.52 710.02,347.88 713.00,347.60 C715.98,347.32 719.30,348.32 721.20,346.90 C723.10,345.48 723.87,340.40 724.40,339.10"/>
<path stroke="#7030A0" d="M398.50,327.60 C399.77,327.07 403.73,325.22 406.10,324.40 C408.47,323.58 410.78,322.90 412.70,322.70 C414.62,322.50 416.25,322.52 417.60,323.20 C418.95,323.88 419.85,325.38 420.80,326.80 C421.75,328.22 422.70,330.08 423.30,331.70 C423.90,333.32 424.05,333.80 424.40,336.50 C424.75,339.20 425.05,345.45 425.40,347.90 C425.75,350.35 426.12,349.30 426.50,351.20 C426.88,353.10 427.28,354.68 427.70,359.30 C428.12,363.92 428.57,373.37 429.00,378.90 C429.43,384.43 429.82,388.97 430.30,392.50 C430.78,396.03 431.25,398.38 431.90,400.10 C432.55,401.82 432.78,402.40 434.20,402.80 C435.62,403.20 437.73,402.55 440.40,402.50 C443.07,402.45 446.95,402.30 450.20,402.50 C453.45,402.70 455.83,403.50 459.90,403.70 C463.97,403.90 471.07,404.23 474.60,403.70 C478.13,403.17 478.95,402.05 481.10,400.50 C483.25,398.95 486.07,395.07 487.50,394.40 C488.93,393.73 488.95,395.18 489.70,396.50 C490.45,397.82 491.25,401.07 492.00,402.30 C492.75,403.53 493.03,403.90 494.20,403.90 C495.37,403.90 497.52,403.92 499.00,402.30 C500.48,400.68 502.10,396.52 503.10,394.20 C504.10,391.88 503.87,390.98 505.00,388.40 C506.13,385.82 508.00,381.95 509.90,378.70 C511.80,375.45 514.23,372.30 516.40,368.90 C518.57,365.50 520.73,361.28 522.90,358.30 C525.07,355.32 527.22,352.77 529.40,351.00 C531.58,349.23 534.23,348.93 536.00,347.70 C537.77,346.47 538.70,345.02 540.00,343.60 C541.30,342.18 542.90,339.33 543.80,339.20 C544.70,339.07 544.87,340.57 545.40,342.80 C545.93,345.03 546.53,351.52 547.00,352.60 C547.47,353.68 547.73,349.63 548.20,349.30 C548.67,348.97 548.98,351.47 549.80,350.60 C550.62,349.73 551.60,345.40 553.10,344.10 C554.60,342.80 557.03,342.68 558.80,342.80 C560.57,342.92 562.40,344.20 563.70,344.80 C565.00,345.40 564.98,346.73 566.60,346.40 C568.22,346.07 571.45,344.48 573.40,342.80 C575.35,341.12 576.38,338.07 578.30,336.30 C580.22,334.53 582.85,333.42 584.90,332.20 C586.95,330.98 588.70,329.27 590.60,329.00 C592.50,328.73 594.53,329.25 596.30,330.60 C598.07,331.95 599.98,334.38 601.20,337.10 C602.42,339.82 602.93,342.68 603.60,346.90 C604.27,351.12 604.65,356.57 605.20,362.40 C605.75,368.23 606.35,376.20 606.90,381.90 C607.45,387.60 607.90,393.08 608.50,396.60 C609.10,400.12 609.92,401.77 610.50,403.00 C611.08,404.23 611.35,404.78 612.00,404.00 C612.65,403.22 613.58,400.60 614.40,398.30 C615.22,396.00 616.08,392.10 616.90,390.20 C617.72,388.30 618.62,386.90 619.30,386.90 C619.98,386.90 620.32,390.12 621.00,390.20 C621.68,390.28 622.58,387.60 623.40,387.40 C624.22,387.20 625.22,386.78 625.90,389.00 C626.58,391.22 626.83,398.33 627.50,400.70 C628.17,403.07 628.95,402.60 629.90,403.20 C630.85,403.80 632.12,404.22 633.20,404.30 C634.28,404.38 635.05,403.88 636.40,403.70 C637.75,403.52 639.80,402.93 641.30,403.20 C642.80,403.47 643.50,404.95 645.40,405.30 C647.30,405.65 650.12,405.38 652.70,405.30 C655.28,405.22 657.90,404.80 660.90,404.80 C663.90,404.80 668.47,405.65 670.70,405.30 C672.93,404.95 673.42,402.52 674.30,402.70 C675.18,402.88 674.98,406.32 676.00,406.40 C677.02,406.48 679.33,403.93 680.40,403.20 C681.47,402.47 681.72,401.82 682.40,402.00 C683.08,402.18 683.80,404.37 684.50,404.30 C685.20,404.23 685.78,401.78 686.60,401.60 C687.42,401.42 687.98,402.67 689.40,403.20 C690.82,403.73 693.20,404.40 695.10,404.80 C697.00,405.20 698.35,405.73 700.80,405.60 C703.25,405.47 706.95,404.48 709.80,404.00 C712.65,403.52 715.73,403.10 717.90,402.70 C720.07,402.30 721.65,402.60 722.80,401.60 C723.95,400.60 724.47,397.52 724.80,396.70"/>
</g>
<g stroke="#222" stroke-width="0.75" fill="none">
<line x1="72.2" y1="79.5" x2="72.2" y2="91.7"/>
<line x1="119.4" y1="73" x2="118.3" y2="84"/>
<line x1="271" y1="79.5" x2="265.6" y2="101.2"/>
<line x1="279" y1="77.5" x2="279" y2="82.7"/>
<line x1="282.2" y1="70.5" x2="286.8" y2="79"/>
<line x1="295.3" y1="67.2" x2="291.2" y2="79"/>
<line x1="300.2" y1="76.5" x2="300.2" y2="81"/>
<line x1="308.3" y1="74.6" x2="308.3" y2="88.4"/>
<line x1="311.6" y1="75.4" x2="316.4" y2="80.3"/>
<line x1="78.3" y1="160.4" x2="78.3" y2="173.4"/>
<line x1="117.5" y1="155" x2="114.2" y2="165.3"/>
<line x1="123.2" y1="155" x2="127.6" y2="164.2"/>
<line x1="256.2" y1="154.3" x2="251.3" y2="174.2"/>
<line x1="275.4" y1="151.4" x2="274.1" y2="156.6"/>
<line x1="284.2" y1="155.5" x2="283.5" y2="168.5"/>
<line x1="73.5" y1="231.2" x2="73.5" y2="243.9"/>
<line x1="235.7" y1="228" x2="235.5" y2="238.7"/>
<line x1="293.6" y1="226.8" x2="296.9" y2="232.1"/>
<line x1="284.7" y1="243.9" x2="278.2" y2="252.8"/>
<line x1="312.4" y1="230" x2="309.1" y2="235.7"/>
<line x1="341.7" y1="241.9" x2="332.7" y2="252.8"/>
<line x1="324.3" y1="321.6" x2="301.8" y2="330.9"/>
<line x1="333.5" y1="324.3" x2="331.9" y2="332.5"/>
<line x1="69.4" y1="405.6" x2="69.4" y2="415.4"/>
<line x1="117.5" y1="406.4" x2="113.7" y2="415.4"/>
<line x1="125.9" y1="406.4" x2="129.2" y2="412.2"/>
<line x1="251.3" y1="405.1" x2="247.1" y2="413.8"/>
<line x1="274.6" y1="406.4" x2="274.6" y2="411.8"/>
<line x1="286.8" y1="393.9" x2="286.8" y2="404"/>
<line x1="293.3" y1="404.3" x2="293.3" y2="409.7"/>
<line x1="309.1" y1="403.7" x2="309.1" y2="408.9"/>
<line x1="327" y1="399.9" x2="327" y2="405.3"/>
<line x1="331.4" y1="402.7" x2="338.4" y2="412.9"/>
<line x1="433.9" y1="86.1" x2="438.4" y2="95"/>
<line x1="493" y1="85.3" x2="490.6" y2="92.6"/>
<line x1="565.8" y1="28.5" x2="565.8" y2="40.4"/>
<line x1="634.8" y1="80.4" x2="631.2" y2="86.4"/>
<line x1="644.3" y1="87.7" x2="647.5" y2="95.9"/>
<line x1="676.4" y1="88.5" x2="676.4" y2="99.1"/>
<line x1="681.8" y1="77.9" x2="683.7" y2="84.4"/>
<line x1="691.9" y1="78.7" x2="689.4" y2="84.1"/>
<line x1="435.5" y1="149.6" x2="440.4" y2="156.9"/>
<line x1="493.3" y1="149.9" x2="492.9" y2="156.4"/>
<line x1="568.2" y1="95.9" x2="568.2" y2="107.3"/>
<line x1="635.6" y1="144.4" x2="631.2" y2="150.6"/>
<line x1="644.6" y1="151.8" x2="648.7" y2="159.1"/>
<line x1="678.5" y1="152.3" x2="678.5" y2="163.2"/>
<line x1="681.8" y1="144.4" x2="683.7" y2="151.3"/>
<line x1="691" y1="146.9" x2="689.4" y2="151"/>
<line x1="433.9" y1="204" x2="437.9" y2="211.3"/>
<line x1="493.8" y1="206.7" x2="493.3" y2="212.1"/>
<line x1="568.2" y1="170" x2="568.2" y2="179.2"/>
<line x1="635.6" y1="205.3" x2="631.6" y2="211.8"/>
<line x1="646.2" y1="212.6" x2="648.2" y2="215.9"/>
<line x1="678.5" y1="212.3" x2="678.5" y2="221.6"/>
<line x1="681.8" y1="204.4" x2="684" y2="212.6"/>
<line x1="689.9" y1="207.4" x2="688.6" y2="212.6"/>
<line x1="435.5" y1="265.7" x2="440.4" y2="273.9"/>
<line x1="493.8" y1="267.3" x2="493" y2="273"/>
<line x1="567.7" y1="213.6" x2="567.7" y2="221.8"/>
<line x1="634.8" y1="263.6" x2="631.9" y2="269.3"/>
<line x1="645.4" y1="271" x2="647.5" y2="275.9"/>
<line x1="678" y1="270" x2="678" y2="277.5"/>
<line x1="682.1" y1="259.6" x2="684" y2="269.3"/>
<line x1="689.9" y1="264.4" x2="688.6" y2="269.7"/>
<line x1="435.5" y1="346.3" x2="440.7" y2="353.6"/>
<line x1="493.3" y1="345" x2="492.5" y2="350.4"/>
<line x1="565.6" y1="282.3" x2="565.6" y2="293.2"/>
<line x1="634.8" y1="339.9" x2="631.9" y2="345.3"/>
<line x1="645.4" y1="347.6" x2="647.5" y2="353.8"/>
<line x1="676" y1="348" x2="676" y2="353.5"/>
<line x1="682.4" y1="335" x2="684.5" y2="344.8"/>
<line x1="689.4" y1="338.8" x2="687.8" y2="344"/>
<line x1="435.5" y1="403.6" x2="438.7" y2="411"/>
<line x1="493.3" y1="404.4" x2="492.9" y2="409.3"/>
<line x1="565.6" y1="346.4" x2="565.6" y2="357.2"/>
<line x1="634.8" y1="398.3" x2="631.9" y2="403.7"/>
<line x1="645.4" y1="405.3" x2="647.5" y2="410.5"/>
<line x1="676" y1="406" x2="676" y2="412.2"/>
<line x1="682.4" y1="395" x2="684.5" y2="402.7"/>
<line x1="689.4" y1="396.7" x2="687.8" y2="401.6"/>
</g>
<g stroke="#000" stroke-width="2" fill="none">
<rect x="21.8" y="1.9" width="326.90" height="445.00"/>
<line x1="348.70" y1="446.9" x2="348.70" y2="451.9"/>
<line x1="330.54" y1="446.9" x2="330.54" y2="451.9"/>
<line x1="312.38" y1="446.9" x2="312.38" y2="451.9"/>
<line x1="294.22" y1="446.9" x2="294.22" y2="451.9"/>
<line x1="276.06" y1="446.9" x2="276.06" y2="451.9"/>
<line x1="257.89" y1="446.9" x2="257.89" y2="451.9"/>
<line x1="239.73" y1="446.9" x2="239.73" y2="451.9"/>
<line x1="221.57" y1="446.9" x2="221.57" y2="451.9"/>
<line x1="203.41" y1="446.9" x2="203.41" y2="451.9"/>
<line x1="185.25" y1="446.9" x2="185.25" y2="451.9"/>
<line x1="167.09" y1="446.9" x2="167.09" y2="451.9"/>
<line x1="148.93" y1="446.9" x2="148.93" y2="451.9"/>
<line x1="130.77" y1="446.9" x2="130.77" y2="451.9"/>
<line x1="112.61" y1="446.9" x2="112.61" y2="451.9"/>
<line x1="94.44" y1="446.9" x2="94.44" y2="451.9"/>
<line x1="76.28" y1="446.9" x2="76.28" y2="451.9"/>
<line x1="58.12" y1="446.9" x2="58.12" y2="451.9"/>
<line x1="39.96" y1="446.9" x2="39.96" y2="451.9"/>
<line x1="21.80" y1="446.9" x2="21.80" y2="451.9"/>
<rect x="398.2" y="1.0" width="326.60" height="445.90"/>
<line x1="724.80" y1="446.9" x2="724.80" y2="451.9"/>
<line x1="706.66" y1="446.9" x2="706.66" y2="451.9"/>
<line x1="688.51" y1="446.9" x2="688.51" y2="451.9"/>
<line x1="670.37" y1="446.9" x2="670.37" y2="451.9"/>
<line x1="652.22" y1="446.9" x2="652.22" y2="451.9"/>
<line x1="634.08" y1="446.9" x2="634.08" y2="451.9"/>
<line x1="615.93" y1="446.9" x2="615.93" y2="451.9"/>
<line x1="597.79" y1="446.9" x2="597.79" y2="451.9"/>
<line x1="579.64" y1="446.9" x2="579.64" y2="451.9"/>
<line x1="561.50" y1="446.9" x2="561.50" y2="451.9"/>
<line x1="543.36" y1="446.9" x2="543.36" y2="451.9"/>
<line x1="525.21" y1="446.9" x2="525.21" y2="451.9"/>
<line x1="507.07" y1="446.9" x2="507.07" y2="451.9"/>
<line x1="488.92" y1="446.9" x2="488.92" y2="451.9"/>
<line x1="470.78" y1="446.9" x2="470.78" y2="451.9"/>
<line x1="452.63" y1="446.9" x2="452.63" y2="451.9"/>
<line x1="434.49" y1="446.9" x2="434.49" y2="451.9"/>
<line x1="416.34" y1="446.9" x2="416.34" y2="451.9"/>
<line x1="398.20" y1="446.9" x2="398.20" y2="451.9"/>
</g>
<g font-family="Liberation Serif" fill="#000">
<text x="0" y="14.8" font-size="16" text-anchor="start" font-weight="bold">(a)</text>
<text x="290.8" y="37.4" font-size="14" text-anchor="middle" font-weight="bold">Iota Carrageenan</text>
<text x="287.5" y="55.3" font-size="8.7" text-anchor="middle">(C−O−C)</text>
<text x="281" y="70.8" font-size="8.7" text-anchor="middle">1072</text>
<text x="298.1" y="67.2" font-size="8.7" text-anchor="middle">1034</text>
<text x="280.9" y="90" font-size="8.7" text-anchor="middle">1157</text>
<text x="299.1" y="87.6" font-size="8.7" text-anchor="middle">930</text>
<text x="307.5" y="95.7" font-size="8.7" text-anchor="middle">845</text>
<text x="318" y="86.8" font-size="8.7" text-anchor="middle">802</text>
<text x="75.65" y="104" font-size="8.7" text-anchor="middle"><tspan font-style="italic">ν</tspan>(O−H)</text>
<text x="75.25" y="114.7" font-size="8.7" text-anchor="middle">3445</text>
<text x="120.2" y="93.4" font-size="8.7" text-anchor="middle">2920</text>
<text x="108.8" y="102.3" font-size="8.7" text-anchor="start"><tspan font-style="italic">ν</tspan>(CH)<tspan font-size="70%" dy="1.6">a</tspan></text>
<text x="265.3" y="113.9" font-size="8.7" text-anchor="middle">1258</text>
<text x="265.6" y="124" font-size="8.7" text-anchor="middle"><tspan letter-spacing="0.8">O=S=O</tspan></text>
<text x="318.5" y="134.6" font-size="14" text-anchor="middle" font-weight="bold">Glycerol</text>
<text x="80" y="183.2" font-size="8.7" text-anchor="middle">3379</text>
<text x="80" y="192.5" font-size="8.7" text-anchor="middle"><tspan font-style="italic">ν</tspan>(O−H)</text>
<text x="105.5" y="167.4" font-size="8.7" text-anchor="middle">2936</text>
<text x="94.6" y="177" font-size="8.7" text-anchor="start"><tspan font-style="italic">ν</tspan>(CH)<tspan font-size="70%" dy="1.6">a</tspan></text>
<text x="137.3" y="167.4" font-size="8.7" text-anchor="middle">2882</text>
<text x="126.3" y="177" font-size="8.7" text-anchor="start"><tspan font-style="italic">ν</tspan>(CH)<tspan font-size="70%" dy="1.6">s</tspan></text>
<text x="253.1" y="183.7" font-size="8.7" text-anchor="middle">1416</text>
<text x="253" y="192.5" font-size="8.7" text-anchor="middle"><tspan font-style="italic">δ</tspan>(CH)</text>
<text x="274.5" y="166.1" font-size="8.7" text-anchor="middle">1211</text>
<text x="282.8" y="175" font-size="8.7" text-anchor="middle">1111</text>
<text x="293.1" y="166.6" font-size="8.7" text-anchor="middle">1041</text>
<text x="283.4" y="184.3" font-size="8.7" text-anchor="middle"><tspan font-style="italic">ν</tspan>(C−O)</text>
<text x="317.3" y="205.2" font-size="14" text-anchor="start" font-weight="bold">SiO<tspan font-size="62%" dy="3">2</tspan></text>
<text x="286.1" y="216.2" font-size="8.7" text-anchor="middle"><tspan font-style="italic">ν</tspan>(Si−OH)</text>
<text x="285.6" y="227.3" font-size="8.7" text-anchor="middle">956</text>
<text x="236.7" y="248.9" font-size="8.7" text-anchor="middle">1635</text>
<text x="236.7" y="258.6" font-size="8.7" text-anchor="middle">O−H</text>
<text x="75.6" y="254" font-size="8.7" text-anchor="middle">3379</text>
<text x="75.65" y="263.5" font-size="8.7" text-anchor="middle"><tspan font-style="italic">ν</tspan>(O−H)</text>
<text x="278.4" y="259.3" font-size="8.7" text-anchor="middle">1092</text>
<text x="256.2" y="270" font-size="8.7" text-anchor="start"><tspan font-style="italic">ν</tspan>(Si−O−Si)<tspan font-size="70%" dy="1.6">a</tspan></text>
<text x="307.9" y="242.2" font-size="8.7" text-anchor="middle">797</text>
<text x="292.8" y="252.4" font-size="8.7" text-anchor="start"><tspan font-style="italic">ν</tspan>(Si−O)<tspan font-size="70%" dy="1.6">s</tspan></text>
<text x="330.5" y="259.8" font-size="8.7" text-anchor="middle">468</text>
<text x="330.7" y="269.4" font-size="8.7" text-anchor="middle"><tspan font-style="italic">ρ</tspan>(Si−O)</text>
<text x="330" y="288" font-size="14" text-anchor="middle" font-weight="bold">ZnO</text>
<text x="295.1" y="333.1" font-size="8.7" text-anchor="middle">667</text>
<text x="295.6" y="342.7" font-size="8.7" text-anchor="middle"><tspan font-style="italic">ν</tspan>(Zn−O−Zn)</text>
<text x="330.4" y="340" font-size="8.7" text-anchor="middle">513</text>
<text x="330.6" y="350.2" font-size="8.7" text-anchor="middle">Zn−O</text>
<text x="331.3" y="372" font-size="14" text-anchor="middle" font-weight="bold">SDS</text>
<text x="286" y="380" font-size="8.7" text-anchor="middle"><tspan font-style="italic">ν</tspan>(SO<tspan font-size="70%" dy="1.6">3</tspan><tspan dy="-1.6">)</tspan></text>
<text x="286.3" y="391.3" font-size="8.7" text-anchor="middle">1084</text>
<text x="70" y="426.5" font-size="8.7" text-anchor="middle">3468</text>
<text x="70.1" y="435.3" font-size="8.7" text-anchor="middle"><tspan font-style="italic">ν</tspan>(O−H)</text>
<text x="112.5" y="425.2" font-size="8.7" text-anchor="middle">2920</text>
<text x="101.2" y="435" font-size="8.7" text-anchor="start"><tspan font-style="italic">ν</tspan>(CH)<tspan font-size="70%" dy="1.6">a</tspan></text>
<text x="137.5" y="415.7" font-size="8.7" text-anchor="middle">2851</text>
<text x="126.6" y="425.5" font-size="8.7" text-anchor="start"><tspan font-style="italic">ν</tspan>(CH)<tspan font-size="70%" dy="1.6">s</tspan></text>
<text x="242.4" y="422.9" font-size="8.7" text-anchor="middle">1470</text>
<text x="230" y="433" font-size="8.7" text-anchor="start"><tspan font-style="italic">δ</tspan>(CH)<tspan font-size="70%" dy="1.6">a</tspan></text>
<text x="274.9" y="419" font-size="8.7" text-anchor="middle">1219</text>
<text x="275.1" y="428.4" font-size="8.7" text-anchor="middle"><tspan letter-spacing="0.35">(O=S=O)</tspan></text>
<text x="293.6" y="418.6" font-size="8.7" text-anchor="middle">995</text>
<text x="310.3" y="417.3" font-size="8.7" text-anchor="middle">837</text>
<text x="327.4" y="414.2" font-size="8.7" text-anchor="middle">637</text>
<text x="339.2" y="421.6" font-size="8.7" text-anchor="middle">590</text>
<text x="375.8" y="15.1" font-size="16" text-anchor="start" font-weight="bold">(b)</text>
<text x="435.2" y="69.8" font-size="9.7" text-anchor="start" font-weight="bold">IC</text>
<text x="435.2" y="135" font-size="9.7" text-anchor="start" font-weight="bold">IC/SiO<tspan font-size="55%" dy="2.5">2</tspan></text>
<text x="435.2" y="191.6" font-size="9.7" text-anchor="start" font-weight="bold">IC/ZnO</text>
<text x="433.5" y="251.2" font-size="9.7" text-anchor="start" font-weight="bold">IC/SiO<tspan font-size="55%" dy="2.5">2</tspan><tspan dy="-2.5">-ZnO 1:1</tspan></text>
<text x="432.2" y="325.2" font-size="9.7" text-anchor="start" font-weight="bold">IC/SiO<tspan font-size="55%" dy="2.5">2</tspan><tspan dy="-2.5">-ZnO 1:2</tspan></text>
<text x="433" y="388.3" font-size="9.7" text-anchor="start" font-weight="bold">IC/SiO<tspan font-size="55%" dy="2.5">2</tspan><tspan dy="-2.5">-ZnO 1:3</tspan></text>
<text x="449.35" y="103.5" font-size="8.7" text-anchor="middle"><tspan font-style="italic">ν</tspan>(O−H)</text>
<text x="448.85" y="114.6" font-size="8.7" text-anchor="middle">3584</text>
<text x="492.5" y="104.3" font-size="8.7" text-anchor="middle">2943</text>
<text x="481.1" y="114" font-size="8.7" text-anchor="start"><tspan font-style="italic">ν</tspan>(CH)<tspan font-size="70%" dy="1.6">a</tspan></text>
<text x="566.8" y="49.7" font-size="8.7" text-anchor="middle">2145</text>
<text x="567.1" y="59.8" font-size="8.7" text-anchor="middle"><tspan font-style="italic">ν</tspan>(C≡C)</text>
<text x="643.4" y="68.2" font-size="8.7" text-anchor="middle"><tspan font-style="italic">δ</tspan>(CH)</text>
<text x="643.5" y="78.7" font-size="8.7" text-anchor="middle">1416</text>
<text x="650.5" y="104" font-size="8.7" text-anchor="middle">1280</text>
<text x="649.9" y="113.3" font-size="8.7" text-anchor="middle"><tspan font-style="italic">δ</tspan>(OH)</text>
<text x="676.1" y="107.3" font-size="8.7" text-anchor="middle">934</text>
<text x="676.5" y="117.4" font-size="8.7" text-anchor="middle"><tspan font-style="italic">γ</tspan>(CH)</text>
<text x="680.8" y="75.5" font-size="8.7" text-anchor="middle">849</text>
<text x="696" y="78.7" font-size="8.7" text-anchor="middle">802</text>
<text x="449.35" y="164.6" font-size="8.7" text-anchor="middle"><tspan font-style="italic">ν</tspan>(O−H)</text>
<text x="448.85" y="175.1" font-size="8.7" text-anchor="middle">3564</text>
<text x="492.7" y="166.2" font-size="8.7" text-anchor="middle">2936</text>
<text x="481.1" y="176" font-size="8.7" text-anchor="start"><tspan font-style="italic">ν</tspan>(CH)<tspan font-size="70%" dy="1.6">a</tspan></text>
<text x="570.6" y="117" font-size="8.7" text-anchor="middle">2137</text>
<text x="570.7" y="126.3" font-size="8.7" text-anchor="middle"><tspan font-style="italic">ν</tspan>(C≡C)</text>
<text x="643.8" y="132.1" font-size="8.7" text-anchor="middle"><tspan font-style="italic">δ</tspan>(CH)</text>
<text x="644" y="142.8" font-size="8.7" text-anchor="middle">1416</text>
<text x="651.1" y="168.1" font-size="8.7" text-anchor="middle">1242</text>
<text x="651" y="178.3" font-size="8.7" text-anchor="middle">O=S=O</text>
<text x="678.2" y="172.5" font-size="8.7" text-anchor="middle">918</text>
<text x="678.1" y="182.3" font-size="8.7" text-anchor="middle"><tspan font-style="italic">γ</tspan>(CH)</text>
<text x="680.8" y="142.5" font-size="8.7" text-anchor="middle">849</text>
<text x="694.7" y="145.7" font-size="8.7" text-anchor="middle">802</text>
<text x="449.35" y="217.3" font-size="8.7" text-anchor="middle"><tspan font-style="italic">ν</tspan>(O−H)</text>
<text x="448.85" y="227.6" font-size="8.7" text-anchor="middle">3607</text>
<text x="492.5" y="223" font-size="8.7" text-anchor="middle">2943</text>
<text x="481.1" y="232.8" font-size="8.7" text-anchor="start"><tspan font-style="italic">ν</tspan>(CH)<tspan font-size="70%" dy="1.6">a</tspan></text>
<text x="570.6" y="189" font-size="8.7" text-anchor="middle">2137</text>
<text x="570.7" y="199.1" font-size="8.7" text-anchor="middle"><tspan font-style="italic">ν</tspan>(C≡C)</text>
<text x="644" y="192.1" font-size="8.7" text-anchor="middle"><tspan font-style="italic">δ</tspan>(CH)</text>
<text x="644" y="202.8" font-size="8.7" text-anchor="middle">1416</text>
<text x="651.1" y="226.4" font-size="8.7" text-anchor="middle">1285</text>
<text x="650.8" y="235.7" font-size="8.7" text-anchor="middle"><tspan font-style="italic">δ</tspan>(OH)</text>
<text x="678.2" y="229.7" font-size="8.7" text-anchor="middle">903</text>
<text x="678.1" y="239.3" font-size="8.7" text-anchor="middle"><tspan font-style="italic">γ</tspan>(CH)</text>
<text x="680.8" y="202.8" font-size="8.7" text-anchor="middle">849</text>
<text x="693.6" y="206.9" font-size="8.7" text-anchor="middle">802</text>
<text x="449.35" y="281.5" font-size="8.7" text-anchor="middle"><tspan font-style="italic">ν</tspan>(O−H)</text>
<text x="448.85" y="292.3" font-size="8.7" text-anchor="middle">3584</text>
<text x="492.7" y="282.8" font-size="8.7" text-anchor="middle">2936</text>
<text x="481.1" y="293.7" font-size="8.7" text-anchor="start"><tspan font-style="italic">ν</tspan>(CH)<tspan font-size="70%" dy="1.6">a</tspan></text>
<text x="570.3" y="231.1" font-size="8.7" text-anchor="middle">2137</text>
<text x="570.2" y="241.2" font-size="8.7" text-anchor="middle"><tspan font-style="italic">ν</tspan>(C≡C)</text>
<text x="643.4" y="250.9" font-size="8.7" text-anchor="middle"><tspan font-style="italic">δ</tspan>(CH)</text>
<text x="643.5" y="262" font-size="8.7" text-anchor="middle">1416</text>
<text x="650.1" y="286" font-size="8.7" text-anchor="middle">1281</text>
<text x="649.9" y="294.9" font-size="8.7" text-anchor="middle"><tspan font-style="italic">δ</tspan>(OH)</text>
<text x="678.2" y="286" font-size="8.7" text-anchor="middle">926</text>
<text x="678.1" y="294.9" font-size="8.7" text-anchor="middle"><tspan font-style="italic">γ</tspan>(CH)</text>
<text x="680.8" y="258.7" font-size="8.7" text-anchor="middle">849</text>
<text x="693.9" y="263.6" font-size="8.7" text-anchor="middle">802</text>
<text x="449.35" y="361.3" font-size="8.7" text-anchor="middle"><tspan font-style="italic">ν</tspan>(O−H)</text>
<text x="448.85" y="372" font-size="8.7" text-anchor="middle">3561</text>
<text x="492.7" y="359.3" font-size="8.7" text-anchor="middle">2940</text>
<text x="481.1" y="369.4" font-size="8.7" text-anchor="start"><tspan font-style="italic">ν</tspan>(CH)<tspan font-size="70%" dy="1.6">a</tspan></text>
<text x="566.8" y="303" font-size="8.7" text-anchor="middle">2145</text>
<text x="567.1" y="312.6" font-size="8.7" text-anchor="middle"><tspan font-style="italic">ν</tspan>(C≡C)</text>
<text x="643.4" y="327.2" font-size="8.7" text-anchor="middle"><tspan font-style="italic">δ</tspan>(CH)</text>
<text x="643.5" y="337.8" font-size="8.7" text-anchor="middle">1416</text>
<text x="650.5" y="361.9" font-size="8.7" text-anchor="middle">1277</text>
<text x="649.9" y="371.2" font-size="8.7" text-anchor="middle"><tspan font-style="italic">δ</tspan>(OH)</text>
<text x="676.1" y="361.9" font-size="8.7" text-anchor="middle">934</text>
<text x="676.5" y="371.2" font-size="8.7" text-anchor="middle"><tspan font-style="italic">γ</tspan>(CH)</text>
<text x="680.8" y="334.2" font-size="8.7" text-anchor="middle">849</text>
<text x="693.9" y="338.3" font-size="8.7" text-anchor="middle">802</text>
<text x="449.35" y="417.8" font-size="8.7" text-anchor="middle"><tspan font-style="italic">ν</tspan>(O−H)</text>
<text x="448.85" y="428.9" font-size="8.7" text-anchor="middle">3584</text>
<text x="492.5" y="418.8" font-size="8.7" text-anchor="middle">2943</text>
<text x="481.1" y="428.4" font-size="8.7" text-anchor="start"><tspan font-style="italic">ν</tspan>(CH)<tspan font-size="70%" dy="1.6">a</tspan></text>
<text x="566.8" y="367.3" font-size="8.7" text-anchor="middle">2145</text>
<text x="567.1" y="377" font-size="8.7" text-anchor="middle"><tspan font-style="italic">ν</tspan>(C≡C)</text>
<text x="643.4" y="387.2" font-size="8.7" text-anchor="middle"><tspan font-style="italic">δ</tspan>(CH)</text>
<text x="643.5" y="397.8" font-size="8.7" text-anchor="middle">1416</text>
<text x="650.5" y="419" font-size="8.7" text-anchor="middle">1277</text>
<text x="649.9" y="428.8" font-size="8.7" text-anchor="middle"><tspan font-style="italic">δ</tspan>(OH)</text>
<text x="676.1" y="420.6" font-size="8.7" text-anchor="middle">934</text>
<text x="676.5" y="430.4" font-size="8.7" text-anchor="middle"><tspan font-style="italic">γ</tspan>(CH)</text>
<text x="680.8" y="392.6" font-size="8.7" text-anchor="middle">849</text>
<text x="693.9" y="395.5" font-size="8.7" text-anchor="middle">802</text>
<text x="348.70" y="468.3" font-size="14" font-weight="bold" text-anchor="middle">400</text>
<text x="312.38" y="468.3" font-size="14" font-weight="bold" text-anchor="middle">800</text>
<text x="276.06" y="468.3" font-size="14" font-weight="bold" text-anchor="middle">1200</text>
<text x="239.73" y="468.3" font-size="14" font-weight="bold" text-anchor="middle">1600</text>
<text x="203.41" y="468.3" font-size="14" font-weight="bold" text-anchor="middle">2000</text>
<text x="167.09" y="468.3" font-size="14" font-weight="bold" text-anchor="middle">2400</text>
<text x="130.77" y="468.3" font-size="14" font-weight="bold" text-anchor="middle">2800</text>
<text x="94.44" y="468.3" font-size="14" font-weight="bold" text-anchor="middle">3200</text>
<text x="58.12" y="468.3" font-size="14" font-weight="bold" text-anchor="middle">3600</text>
<text x="21.80" y="468.3" font-size="14" font-weight="bold" text-anchor="middle">4000</text>
<text x="724.80" y="468.3" font-size="14" font-weight="bold" text-anchor="middle">400</text>
<text x="688.51" y="468.3" font-size="14" font-weight="bold" text-anchor="middle">800</text>
<text x="652.22" y="468.3" font-size="14" font-weight="bold" text-anchor="middle">1200</text>
<text x="615.93" y="468.3" font-size="14" font-weight="bold" text-anchor="middle">1600</text>
<text x="579.64" y="468.3" font-size="14" font-weight="bold" text-anchor="middle">2000</text>
<text x="543.36" y="468.3" font-size="14" font-weight="bold" text-anchor="middle">2400</text>
<text x="507.07" y="468.3" font-size="14" font-weight="bold" text-anchor="middle">2800</text>
<text x="470.78" y="468.3" font-size="14" font-weight="bold" text-anchor="middle">3200</text>
<text x="434.49" y="468.3" font-size="14" font-weight="bold" text-anchor="middle">3600</text>
<text x="398.20" y="468.3" font-size="14" font-weight="bold" text-anchor="middle">4000</text>
<text x="129.5" y="487.2" font-size="14" font-weight="bold">Wavenumber (cm<tspan font-size="9" dy="-5">-1</tspan><tspan dy="5">)</tspan></text>
<text x="503.7" y="487.9" font-size="14" font-weight="bold">Wavenumber (nm)</text>
<text transform="translate(9.8,227.8) rotate(-90)" font-size="14" font-weight="bold" text-anchor="middle">Transmittance (a.u.)</text>
<text transform="translate(385.6,224.4) rotate(-90)" font-size="14" font-weight="bold" text-anchor="middle">Transmittance (a.u.)</text>
</g>
</svg>
</body></html>
